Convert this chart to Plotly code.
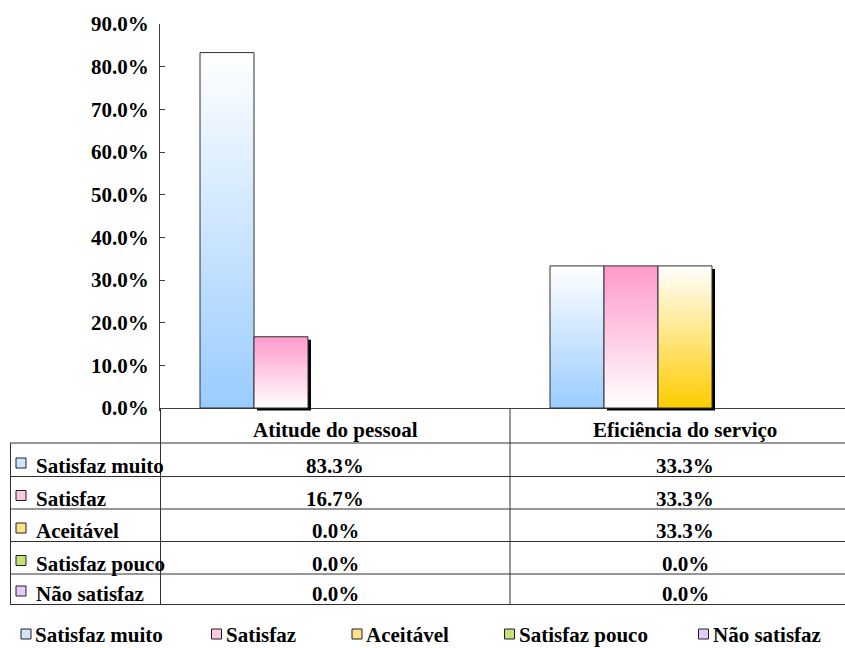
import plotly.graph_objects as go

# ---------------- data ----------------
categories = ["Atitude do pessoal", "Eficiência do serviço"]
series_names = ["Satisfaz muito", "Satisfaz", "Aceitável", "Satisfaz pouco", "Não satisfaz"]
satisfaz_muito = [83.3, 33.3]
satisfaz = [16.7, 33.3]
aceitavel = [0.0, 33.3]
satisfaz_pouco = [0.0, 0.0]
nao_satisfaz = [0.0, 0.0]
series_values = [satisfaz_muito, satisfaz, aceitavel, satisfaz_pouco, nao_satisfaz]

# ---------------- styles ----------------
grad_bottom = ["#99CCFF", "#FFFFFF", "#FFCC00", "#FFFFFF", "#FFFFFF"]
grad_top = ["#FFFFFF", "#FF99CC", "#FFFFFF", "#99CC00", "#CC99FF"]
swatch = ["#CFE4FC", "#FFC8E2", "#FFE18A", "#C6E07A", "#E2CCFF"]
has_shadow = [False, True, True, True, True]
edge = "#303030"
FAMILY = "Times New Roman"
FS = 21


def font():
    return dict(family=FAMILY, size=FS, color="black", weight="bold")


W, H = 845, 648
PLOT_L = 160
CAT_PX = 350.0           # pixels per category
Y0_PX, Y90_PX = 408.0, 24.0
PX_PER_UNIT = (Y0_PX - Y90_PX) / 90.0
Y_MIN = -0.6             # room for drop shadows below the axis
bar_w = 54.0 / CAT_PX    # width of one bar in category units
n_ser = len(series_names)
sh_dx = 3.0 / CAT_PX
sh_dy = 3.0 / PX_PER_UNIT


def px_x(px):
    return px / W


def px_y(py):
    return 1 - py / H


fig = go.Figure()


def bar_x(ci, si):
    left = ci - n_ser * bar_w / 2 + si * bar_w
    return left, left + bar_w


# shadows first
for si, vals in enumerate(series_values):
    if not has_shadow[si]:
        continue
    for ci, v in enumerate(vals):
        if v <= 0:
            continue
        l, r = bar_x(ci, si)
        fig.add_trace(go.Scatter(
            x=[l + sh_dx, l + sh_dx, r + sh_dx, r + sh_dx, l + sh_dx],
            y=[-sh_dy, v - sh_dy, v - sh_dy, -sh_dy, -sh_dy],
            mode="lines", fill="toself", fillcolor="black",
            line=dict(width=0, color="black"), hoverinfo="skip", showlegend=False))

# bars (zero-height bars are invisible)
for si, vals in enumerate(series_values):
    for ci, v in enumerate(vals):
        if v <= 0:
            continue
        l, r = bar_x(ci, si)
        fig.add_trace(go.Scatter(
            x=[l, l, r, r, l],
            y=[0, v, v, 0, 0],
            mode="lines", fill="toself",
            fillgradient=dict(type="vertical",
                              colorscale=[[0, grad_bottom[si]], [1, grad_top[si]]]),
            line=dict(width=1, color=edge),
            name=series_names[si], showlegend=False,
            hoveron="fills",
            text=f"{series_names[si]} - {categories[ci]}: {v:.1f}%",
            hoverinfo="text"))

x_range = [-0.5, -0.5 + (W - PLOT_L) / CAT_PX]
y_dom = [px_y(Y0_PX - Y_MIN * PX_PER_UNIT), px_y(Y90_PX)]

shapes = []
annotations = []
line_style = dict(color="#303030", width=1)

# table geometry (pixels)
row_lines = [443, 476.5, 509, 541.5, 574, 604.5]
header_center = 430

# horizontal table lines
for yl in row_lines:
    shapes.append(dict(type="line", xref="paper", yref="paper",
                       x0=px_x(10), x1=1, y0=px_y(yl), y1=px_y(yl), line=line_style))
# left border
shapes.append(dict(type="line", xref="paper", yref="paper",
                   x0=px_x(10.5), x1=px_x(10.5), y0=px_y(row_lines[0]), y1=px_y(row_lines[-1]),
                   line=line_style))
# continuation of y axis through the table
shapes.append(dict(type="line", xref="paper", yref="paper",
                   x0=px_x(PLOT_L + 0.5), x1=px_x(PLOT_L + 0.5), y0=px_y(Y0_PX),
                   y1=px_y(row_lines[-1]), line=line_style))
# column divider between categories
for ci in range(len(categories) - 1):
    shapes.append(dict(type="line", xref="x", yref="paper",
                       x0=ci + 0.5, x1=ci + 0.5, y0=px_y(Y0_PX), y1=px_y(row_lines[-1]),
                       line=line_style))

# header text
for ci, cat in enumerate(categories):
    annotations.append(dict(xref="x", yref="paper", x=ci, y=px_y(header_center),
                            text=cat, showarrow=False, xanchor="center", yanchor="middle",
                            font=font()))

# rows
for si, name in enumerate(series_names):
    yc = row_lines[si + 1] - 10.5
    annotations.append(dict(xref="paper", yref="paper", x=px_x(34), y=px_y(yc),
                            text=name, showarrow=False, xanchor="left", yanchor="middle",
                            font=font()))
    shapes.append(dict(type="rect", xref="paper", yref="paper",
                       x0=px_x(16), x1=px_x(26), y0=px_y(yc - 8), y1=px_y(yc + 2),
                       fillcolor=swatch[si], line=dict(color="#202020", width=1)))
    for ci, v in enumerate(series_values[si]):
        annotations.append(dict(xref="x", yref="paper", x=ci, y=px_y(yc),
                                text=f"{v:.1f}%", showarrow=False, xanchor="center",
                                yanchor="middle", font=font()))

# bottom legend
legend_sq_x = [21, 211.5, 352, 504.5, 698.5]
legend_y = 635
for si, name in enumerate(series_names):
    x0 = legend_sq_x[si]
    shapes.append(dict(type="rect", xref="paper", yref="paper",
                       x0=px_x(x0), x1=px_x(x0 + 10), y0=px_y(legend_y - 6), y1=px_y(legend_y + 4),
                       fillcolor=swatch[si], line=dict(color="#202020", width=1)))
    annotations.append(dict(xref="paper", yref="paper", x=px_x(x0 + 12), y=px_y(legend_y),
                            text=name, showarrow=False, xanchor="left", yanchor="middle",
                            font=font()))

fig.update_layout(
    width=W, height=H,
    font=dict(family=FAMILY, size=FS, color="black"),
    margin=dict(l=0, r=0, t=0, b=0, autoexpand=False),
    paper_bgcolor="white", plot_bgcolor="white",
    showlegend=False,
    xaxis=dict(domain=[px_x(PLOT_L), 1], range=x_range, visible=True,
               showgrid=False, zeroline=False, showline=False, showticklabels=False,
               ticks="", fixedrange=True),
    yaxis=dict(domain=y_dom, range=[Y_MIN, 90], dtick=10, tick0=0,
               tickformat=".1f", ticksuffix="%",
               showgrid=False, showline=True, linecolor="#404040", linewidth=1,
               ticks="inside", ticklen=5, tickcolor="#404040", tickwidth=1,
               zeroline=True, zerolinecolor="#404040", zerolinewidth=1,
               ticklabelstandoff=6, tickfont=font(), fixedrange=True),
    shapes=shapes,
    annotations=annotations,
)

fig.write_html("out.html")
